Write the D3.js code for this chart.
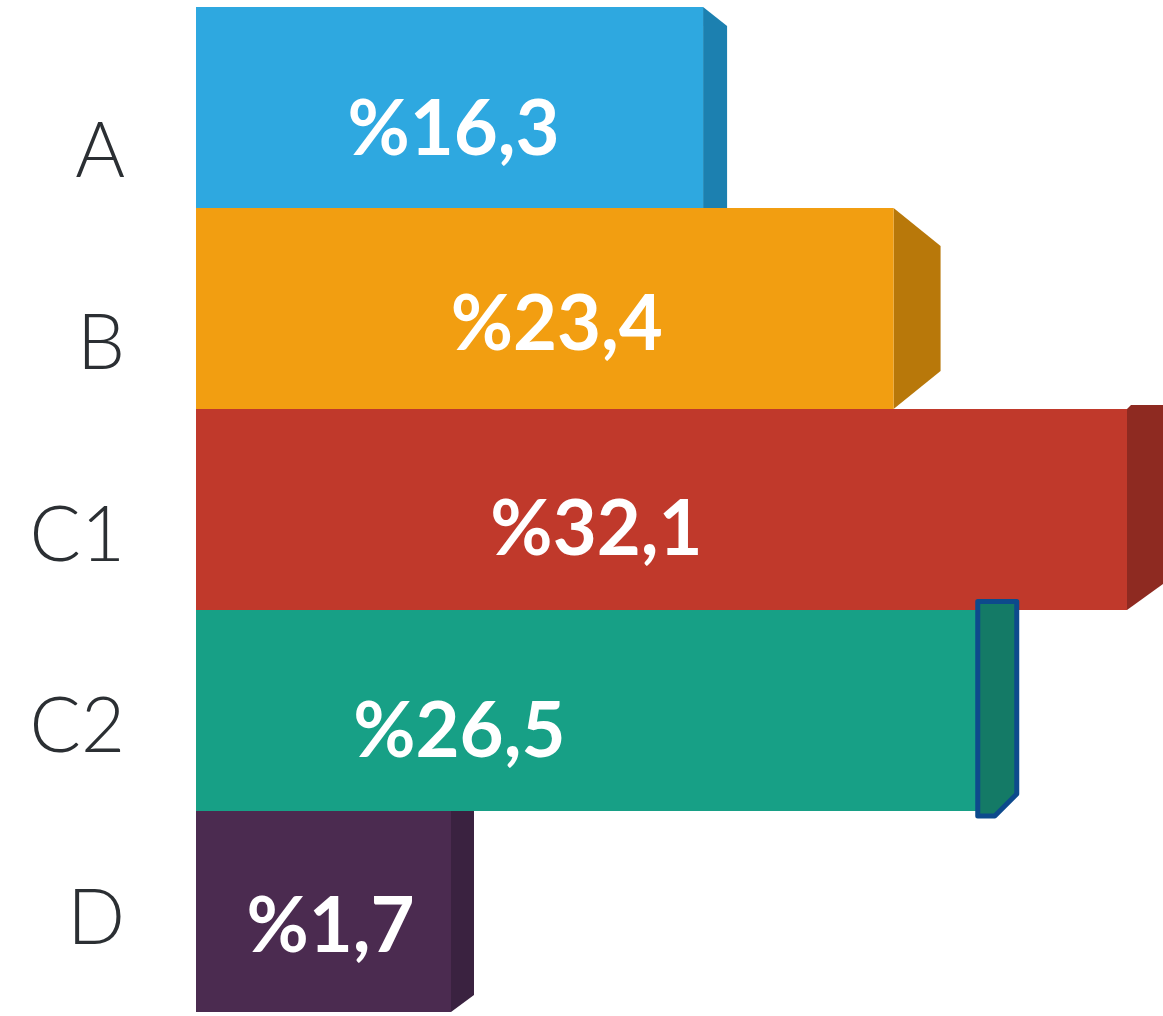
<!DOCTYPE html>
<html>
<head>
<meta charset="utf-8">
<script src="https://cdn.jsdelivr.net/npm/d3@7"></script>
<style>
  html, body { margin: 0; padding: 0; background: #ffffff; }
  svg { display: block; }
</style>
</head>
<body>
<svg id="chart" width="1163" height="1016"></svg>
<script>
// Share of each group (percent)
const categories = ["A", "B", "C1", "C2", "D"];
const values = [16.3, 23.4, 32.1, 26.5, 1.7];

// Colours: front face and darker side face per bar
const frontColors = ["#2ea8e0", "#f29e11", "#c0392b", "#17a086", "#4b2b50"];
const sideColors  = ["#1c80b0", "#b8780a", "#8e2a21", "#147a66", "#3a2240"];

// Shape of the side face of each bar: depth, how far its top edge drops,
// how far its bottom edge rises (negative = extends beyond the front face)
const sideShapes = [
  { depth: 24, top: 19, bottom: 0 },
  { depth: 47, top: 38, bottom: 38 },
  { depth: 40, top: -4, bottom: 29 },
  { depth: 39, top: -11, bottom: -5, outline: "#0d4a8c", chamfer: 22 },
  { depth: 23, top: 0, bottom: 17 }
];

// Nudges for the value labels relative to the bar's centre
const labelNudge = [
  { dx: 4, dy: 47 }, { dx: 12, dy: 41 }, { dx: -65, dy: 45 },
  { dx: -127, dy: 46 }, { dx: 7, dy: 40 }
];

const svg = d3.select("#chart");
const x0 = 196;
const minBarWidth = 255;          // keep room for the label on small bars

const x = d3.scaleLinear().domain([-2.6, 32.1]).range([0, 931]);
const y = d3.scaleBand().domain(categories).range([7, 1012]).padding(0);
const yLabel = d3.scalePoint().domain(categories).range([150, 917]);

const fmt = d3.formatLocale({ decimal: ",", thousands: ".", grouping: [3], currency: ["", ""] }).format(".1f");

const data = categories.map((c, i) => ({
  cat: c, value: values[i], i,
  w: Math.max(x(values[i]), minBarWidth)
}));

const bars = svg.append("g").selectAll("g.bar").data(data).join("g").attr("class", "bar");

// side faces
bars.each(function(d) {
  const g = d3.select(this);
  const s = sideShapes[d.i];
  const xr = x0 + d.w;
  const yt = y(d.cat), yb = yt + y.bandwidth();
  if (s.outline) {
    const sx = xr + 1, sw = s.depth;
    const ty = yt + s.top + 2.5, by = yb - s.bottom;
    const pts = [[sx, ty], [sx + sw, ty], [sx + sw, by - s.chamfer], [sx + sw - s.chamfer, by], [sx, by]];
    g.append("path")
      .attr("d", d3.line()(pts) + "Z")
      .attr("fill", sideColors[d.i])
      .attr("stroke", s.outline)
      .attr("stroke-width", 5)
      .attr("stroke-linejoin", "round");
  } else {
    const pts = s.top < 0
      ? [[xr, yt], [xr + 4, yt + s.top], [xr + s.depth, yt + s.top], [xr + s.depth, yb - s.bottom], [xr, yb]]
      : [[xr, yt], [xr + s.depth, yt + s.top], [xr + s.depth, yb - s.bottom], [xr, yb]];
    g.append("path")
      .attr("d", d3.line()(pts) + "Z")
      .attr("fill", sideColors[d.i]);
  }
});

// front faces
bars.append("rect")
  .attr("x", x0)
  .attr("y", d => y(d.cat))
  .attr("width", d => d.w)
  .attr("height", y.bandwidth())
  .attr("fill", d => frontColors[d.i]);

// draw the outlined side above the front faces it overlaps
bars.filter(d => sideShapes[d.i].outline).each(function() {
  const p = d3.select(this).select("path").node();
  this.appendChild(p);
});

// value labels
bars.append("text")
  .attr("x", d => x0 + d.w / 2 + labelNudge[d.i].dx)
  .attr("y", d => y(d.cat) + y.bandwidth() / 2 + labelNudge[d.i].dy)
  .attr("text-anchor", "middle")
  .attr("font-family", "Lato, 'Open Sans', sans-serif")
  .attr("font-weight", 700)
  .attr("font-size", 76)
  .attr("fill", "#ffffff")
  .text(d => "%" + fmt(d.value));

// category labels
svg.append("g").selectAll("text").data(data).join("text")
  .attr("x", 125)
  .attr("y", d => yLabel(d.cat) + 27)
  .attr("text-anchor", "end")
  .attr("font-family", "Lato, 'Open Sans', sans-serif")
  .attr("font-weight", 300)
  .attr("font-size", 76)
  .attr("fill", "#2b2f33")
  .text(d => d.cat);
</script>
</body>
</html>
